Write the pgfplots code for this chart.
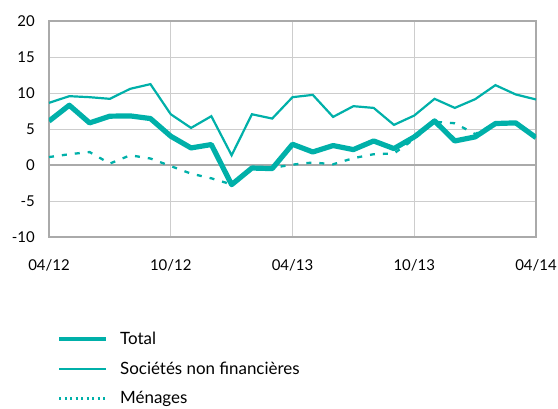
\documentclass[border=0pt]{standalone}
\usepackage{pgfplots}
\pgfplotsset{compat=1.18}
\usepackage{fontspec}
\setmainfont{Lato}
\definecolor{teal1}{RGB}{0,176,169}
\definecolor{gridg}{RGB}{205,205,205}
\definecolor{frameg}{RGB}{170,170,170}
\begin{document}
\fontsize{15}{18}\selectfont
\begin{tikzpicture}
\useasboundingbox (-49bp,-172bp) rectangle (509bp,237bp);
\begin{axis}[
  at={(0,0)}, anchor=south west,
  scale only axis, width=487bp, height=216bp,
  xmin=0, xmax=24, ymin=-10, ymax=20,
  xtick={0,6,12,18,24},
  xticklabels={04/12,10/12,04/13,10/13,04/14},
  ytick={-10,-5,0,5,10,15,20},
  /pgf/number format/assume math mode=true,
  major tick length=0pt,
  grid=major,
  grid style={gridg, line width=0.9bp},
  axis line style={frameg, line width=1.6bp},
  extra y ticks={0}, extra y tick labels={},
  extra y tick style={grid style={frameg, line width=1.6bp}},
  xticklabel style={yshift=-17bp},
  yticklabel style={xshift=-9bp},
  tick label style={font=\fontsize{15}{18}\selectfont},
  reverse legend,
  legend cell align=left,
  legend style={at={(0.0,-0.42)}, anchor=north west, draw=none, fill=none,
    font=\fontsize{17}{19}\selectfont, row sep=11bp, xshift=5bp,
    /tikz/every odd column/.append style={column sep=10bp}},
]
\addplot[teal1, line width=2.3bp, dash pattern=on 5bp off 8bp,
  legend image code/.code={\draw[teal1, line width=2.3bp, dash pattern=on 2bp off 3.5bp] (0bp,0bp) -- (47bp,0bp);}]
  coordinates {(0,1.1)(1,1.5)(2,1.8)(3,0.2)(4,1.35)(5,0.9)(6,-0.15)(7,-1.2)(8,-1.85)(9,-2.7)(10,-0.4)(11,-0.4)(12,0.05)(13,0.35)(14,0.1)(15,0.95)(16,1.5)(17,1.6)(18,3.6)(19,6.0)(20,5.8)(21,4.3)(22,5.8)(23,5.85)(24,3.8)};
\addlegendentry{Ménages}
\addplot[teal1, line width=2.2bp,
  legend image code/.code={\draw[teal1, line width=2.5bp] (0bp,0bp) -- (47bp,0bp);}]
  coordinates {(0,8.63)(1,9.56)(2,9.42)(3,9.19)(4,10.58)(5,11.23)(6,7.05)(7,5.15)(8,6.78)(9,1.35)(10,7.05)(11,6.45)(12,9.42)(13,9.74)(14,6.68)(15,8.17)(16,7.93)(17,5.57)(18,6.87)(19,9.19)(20,7.93)(21,9.14)(22,11.09)(23,9.8)(24,9.1)};
\addlegendentry{Sociétés non financières}
\addplot[teal1, line width=5.2bp, line join=round,
  legend image code/.code={\draw[teal1, line width=4bp] (0bp,0bp) -- (47bp,0bp);}]
  coordinates {(0,6.1)(1,8.3)(2,5.85)(3,6.78)(4,6.82)(5,6.45)(6,4.0)(7,2.37)(8,2.84)(9,-2.73)(10,-0.42)(11,-0.5)(12,2.88)(13,1.81)(14,2.7)(15,2.14)(16,3.34)(17,2.28)(18,3.9)(19,6.12)(20,3.34)(21,3.9)(22,5.76)(23,5.85)(24,3.81)};
\addlegendentry{Total}
\end{axis}
\end{tikzpicture}
\end{document}
